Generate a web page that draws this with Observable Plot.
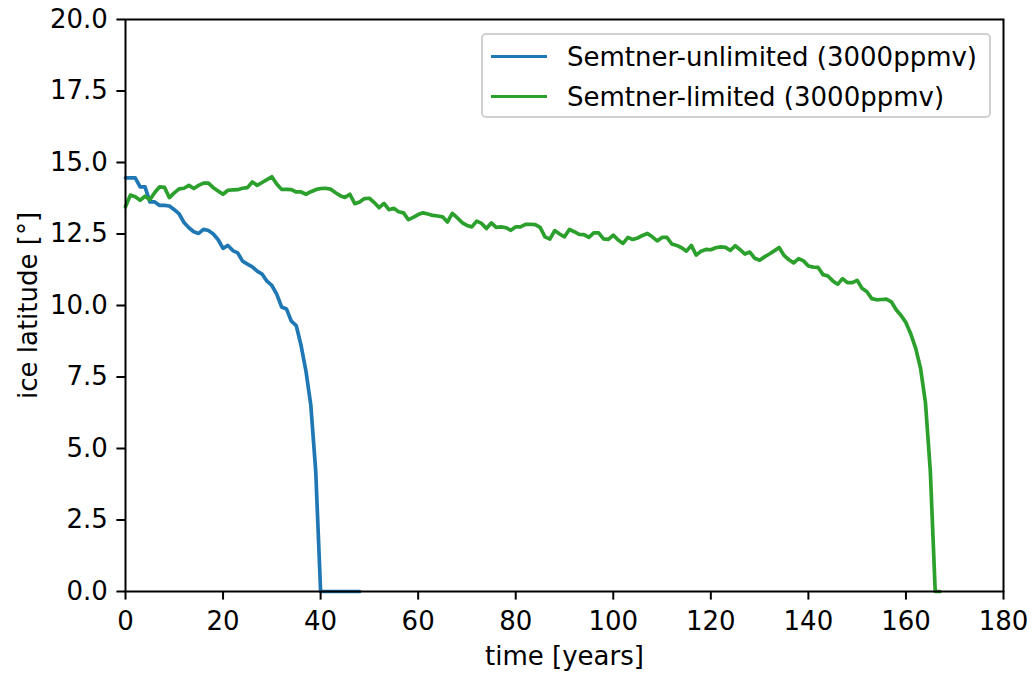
<!DOCTYPE html>
<html>
<head>
<meta charset="utf-8">
<script src="https://cdn.jsdelivr.net/npm/d3@7"></script>
<script src="https://cdn.jsdelivr.net/npm/@observablehq/plot@0.6"></script>
<style>
  html, body { margin: 0; padding: 0; background: white; }
  #wrap { position: relative; width: 1035px; height: 675px; font-family: "DejaVu Sans", sans-serif; }
  #legend { position: absolute; left: 481px; top: 33px; width: 510px; height: 85px;
            border: 2px solid #d0d0d0; border-radius: 5px; background: rgba(255,255,255,0.8); box-sizing: border-box; }
  .row { position: absolute; left: 0; height: 30px; }
  .sw { position: absolute; left: 8px; width: 56px; height: 0; border-top: 3.7px solid; }
  .lab { position: absolute; left: 84px; font-size: 26px; white-space: nowrap; color: black; line-height: 30px; }
</style>
</head>
<body>
<div id="wrap"></div>
<script>
// Series: values per year, starting at year 0
const seriesNames = ["Semtner-unlimited (3000ppmv)", "Semtner-limited (3000ppmv)"];
const seriesColors = ["#1f77b4", "#2ca02c"];
const unlimitedValues = [
  14.46,14.46,14.46,14.15,14.15,13.62,13.62,13.5,13.5,13.48,
  13.35,13.2,12.9,12.72,12.58,12.52,12.66,12.62,12.5,12.3,
  12.0,12.1,11.92,11.84,11.55,11.45,11.35,11.2,11.1,10.85,
  10.7,10.4,9.95,9.88,9.45,9.3,8.6,7.7,6.5,4.2,
  0,0,0,0,0,0,0,0,0
];
const limitedValues = [
  13.45,13.86,13.8,13.68,13.82,13.7,13.95,14.15,14.13,13.77,
  13.94,14.08,14.1,14.2,14.09,14.2,14.28,14.28,14.12,14.0,
  13.89,14.03,14.04,14.05,14.1,14.12,14.32,14.2,14.3,14.4,
  14.5,14.25,14.06,14.06,14.05,13.97,13.97,13.89,13.98,14.05,
  14.09,14.1,14.07,13.95,13.84,13.78,13.89,13.56,13.62,13.74,
  13.75,13.6,13.42,13.57,13.35,13.4,13.28,13.24,13.0,13.08,
  13.18,13.24,13.2,13.15,13.13,13.1,12.92,13.22,13.07,12.9,
  12.8,12.75,12.95,12.87,12.69,12.89,12.73,12.75,12.72,12.63,
  12.75,12.75,12.84,12.84,12.83,12.73,12.4,12.32,12.62,12.5,
  12.4,12.66,12.58,12.49,12.48,12.38,12.54,12.54,12.33,12.31,
  12.46,12.29,12.17,12.38,12.31,12.36,12.45,12.52,12.4,12.26,
  12.38,12.38,12.15,12.1,12.02,11.9,12.1,11.76,11.9,11.96,
  11.95,12.02,12.05,12.03,11.93,12.09,11.95,11.8,11.87,11.65,
  11.58,11.7,11.8,11.91,12.03,11.75,11.6,11.49,11.64,11.56,
  11.38,11.34,11.33,11.08,11.03,10.86,10.74,10.94,10.8,10.8,
  10.88,10.6,10.48,10.24,10.2,10.21,10.22,10.13,9.85,9.65,
  9.4,9.0,8.5,7.8,6.6,4.2,0,0
];
const xTicks = [0,20,40,60,80,100,120,140,160,180];
const yTicks = [0,2.5,5,7.5,10,12.5,15,17.5,20];
const xLabel = "time [years]";
const yLabel = "ice latitude [°]";

const unlimitedData = unlimitedValues.map((v, i) => ({t: i, v}));
const limitedData = limitedValues.map((v, i) => ({t: i, v}));

const FS = 26;
const chart = Plot.plot({
  width: 1035, height: 675,
  marginLeft: 125, marginRight: 32, marginTop: 19, marginBottom: 84,
  style: {fontFamily: "DejaVu Sans", fontSize: FS + "px", color: "black", background: "white"},
  x: {domain: [0, 180]},
  y: {domain: [0, 20]},
  marks: [
    Plot.line(unlimitedData, {x: "t", y: "v", stroke: seriesColors[0], strokeWidth: 3.7, strokeLinejoin: "round"}),
    Plot.line(limitedData, {x: "t", y: "v", stroke: seriesColors[1], strokeWidth: 3.7, strokeLinejoin: "round"}),
    Plot.frame({stroke: "black", strokeWidth: 2}),
    Plot.axisX({ticks: xTicks, tickSize: 8.6, tickPadding: 11, strokeWidth: 2, tickFormat: d => String(d), label: null, fontSize: FS}),
    Plot.axisY({ticks: yTicks, tickSize: 8.6, tickPadding: 9, strokeWidth: 2, tickFormat: d3.format(".1f"), label: null, fontSize: FS}),
    Plot.text([xLabel], {text: d => d, frameAnchor: "bottom", dy: 65, lineAnchor: "middle", textAnchor: "middle", fontSize: FS, fill: "black"}),
    Plot.text([yLabel], {text: d => d, frameAnchor: "left", dx: -97, rotate: -90, lineAnchor: "middle", textAnchor: "middle", fontSize: FS, fill: "black"})
  ]
});

const wrap = document.getElementById("wrap");
wrap.appendChild(chart);

const legend = document.createElement("div");
legend.id = "legend";
seriesNames.forEach((name, i) => {
  const row = document.createElement("div");
  row.className = "row";
  row.style.top = (i === 0 ? 7 : 47) + "px";
  const sw = document.createElement("div");
  sw.className = "sw";
  sw.style.borderTopColor = seriesColors[i];
  sw.style.top = "13px";
  const lab = document.createElement("div");
  lab.className = "lab";
  lab.textContent = name;
  lab.style.top = "0px";
  row.appendChild(sw);
  row.appendChild(lab);
  legend.appendChild(row);
});
wrap.appendChild(legend);
</script>
</body>
</html>
